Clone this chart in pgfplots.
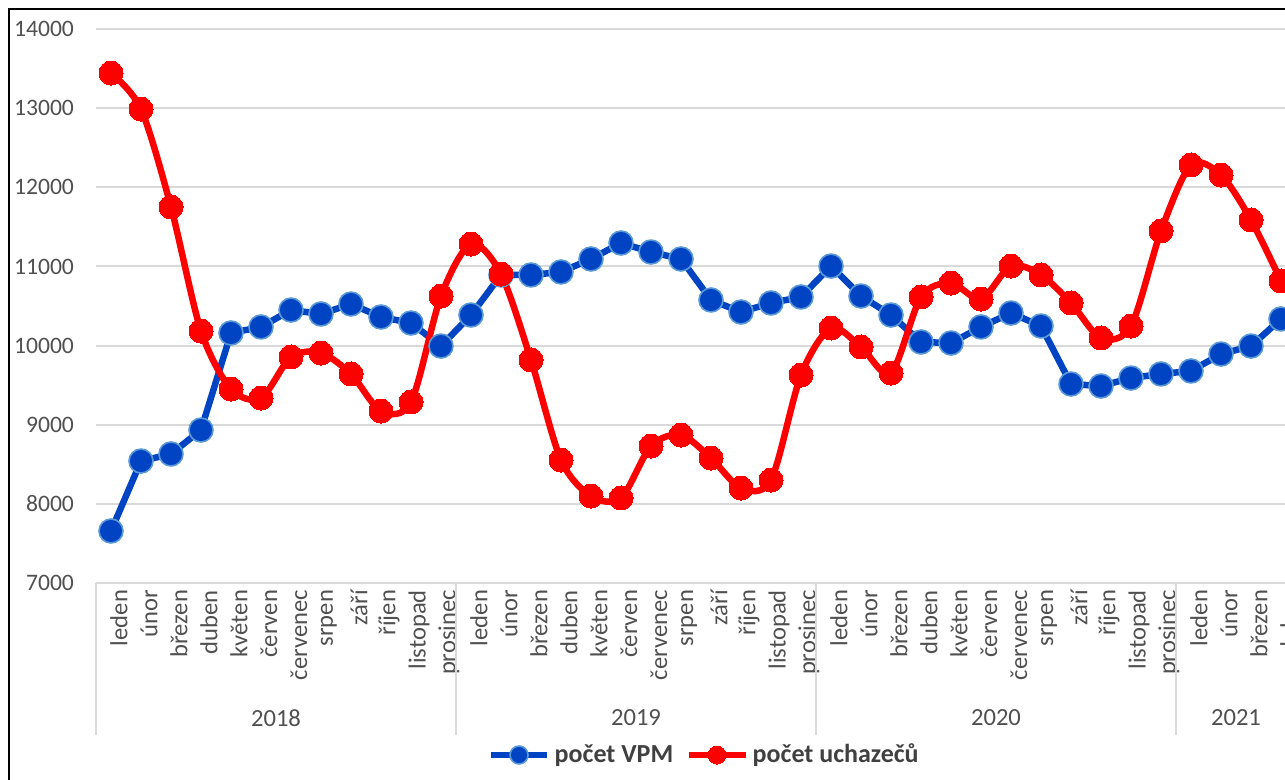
\documentclass[border=0pt]{standalone}
\usepackage{pgfplots}
\pgfplotsset{compat=1.18}
\usepackage{fontspec}
\setmainfont{Carlito}

\definecolor{vpm}{RGB}{0,68,196}
\definecolor{vpmedge}{RGB}{91,155,213}
\definecolor{uch}{RGB}{255,0,0}
\definecolor{gridc}{RGB}{217,217,217}
\definecolor{txt}{RGB}{80,80,80}
\definecolor{legtxt}{RGB}{64,64,64}

% pixel of the reference -> picture coordinates
\newcommand{\px}[2]{({(#1-96)*0.5pt},{(583-#2)*0.5pt})}

\begin{document}
\begin{tikzpicture}
\useasboundingbox \px{0}{0} rectangle \px{1285}{780};
\clip \px{0}{0} rectangle \px{1285}{780};

\begin{axis}[
    at={(0,0)}, anchor=south west,
    scale only axis, width=600pt, height=277pt,
    xmin=-0.5, xmax=39.5, ymin=7000, ymax=14000,
    ytick={7000,8000,...,14000},
    scaled y ticks=false,
    xtick={0,...,39},
    xticklabels={leden,únor,březen,duben,květen,červen,červenec,srpen,září,říjen,listopad,prosinec,
                 leden,únor,březen,duben,květen,červen,červenec,srpen,září,říjen,listopad,prosinec,
                 leden,únor,březen,duben,květen,červen,červenec,srpen,září,říjen,listopad,prosinec,
                 leden,únor,březen,duben},
    axis line style={draw=none},
    major tick length=0pt,
    ymajorgrids, grid style={gridc, line width=1pt},
    tick label style={font=\fontsize{11.8}{13}\selectfont, text=txt},
    xticklabel style={rotate=90, anchor=east, yshift=-4pt, font=\fontsize{12.3}{13}\selectfont},
    yticklabel style={xshift=-7.5pt, /pgf/number format/fixed, /pgf/number format/precision=0},
    /pgf/number format/1000 sep={},
    /pgf/number format/assume math mode=true,
    legend style={at={(0.5075,-0.3105)}, anchor=center, draw=none, fill=none,
        font=\fontsize{13}{15}\selectfont\bfseries, text=legtxt, legend columns=2},
    /tikz/every even column/.append style={column sep=4pt},
    legend image code/.code={\draw[mark repeat=2,mark phase=2,#1,mark size=4.5pt]
        plot coordinates {(0cm,0cm) (0.5cm,0cm) (1cm,0cm)};},
]
\addplot[vpm, line width=3.25pt, mark=*, mark size=6pt,
    mark options={fill=vpm, draw=vpmedge, line width=0.8pt}] coordinates {
    (0,7657) (1,8541) (2,8630) (3,8933) (4,10159) (5,10235) (6,10449) (7,10399)
    (8,10525) (9,10361) (10,10285) (11,9994)
    (12,10386) (13,10892) (14,10892) (15,10930) (16,11094) (17,11296) (18,11182) (19,11094)
    (20,10576) (21,10424) (22,10538) (23,10614)
    (24,11005) (25,10626) (26,10386) (27,10045) (28,10032) (29,10235) (30,10411) (31,10247)
    (32,9514) (33,9489) (34,9590) (35,9641)
    (36,9679) (37,9893) (38,9994) (39,10336)
};
\addlegendentry{počet VPM}
\addplot[uch, line width=3.25pt, smooth, mark=*, mark size=6pt,
    mark options={fill=uch, draw=uch, line width=0pt}] coordinates {
    (0,13444) (1,12989) (2,11751) (3,10184) (4,9451) (5,9337) (6,9856) (7,9906)
    (8,9641) (9,9173) (10,9287) (11,10626)
    (12,11283) (13,10904) (14,9818) (15,8554) (16,8099) (17,8074) (18,8731) (19,8870)
    (20,8579) (21,8200) (22,8301) (23,9628)
    (24,10222) (25,9982) (26,9653) (27,10614) (28,10790) (29,10588) (30,11005) (31,10892)
    (32,10538) (33,10096) (34,10247) (35,11448)
    (36,12282) (37,12155) (38,11587) (39,10816)
};
\addlegendentry{počet uchazečů}
\end{axis}

% category group separators
\foreach \x in {96,456,816,1176,1296}
  \draw[gridc, line width=1pt] \px{\x}{583} -- \px{\x}{735};
% year labels
\begin{scope}[every node/.style={font=\fontsize{12.3}{13}\selectfont, text=txt}]
\node at \px{276}{718} {2018};
\node at \px{636}{718} {2019};
\node at \px{996}{718} {2020};
\node at \px{1236}{718} {2021};
\end{scope}

% chart area frame
\draw[black, line width=0.8pt] \px{9}{790} -- \px{9}{9} -- \px{1300}{9};
\end{tikzpicture}
\end{document}
